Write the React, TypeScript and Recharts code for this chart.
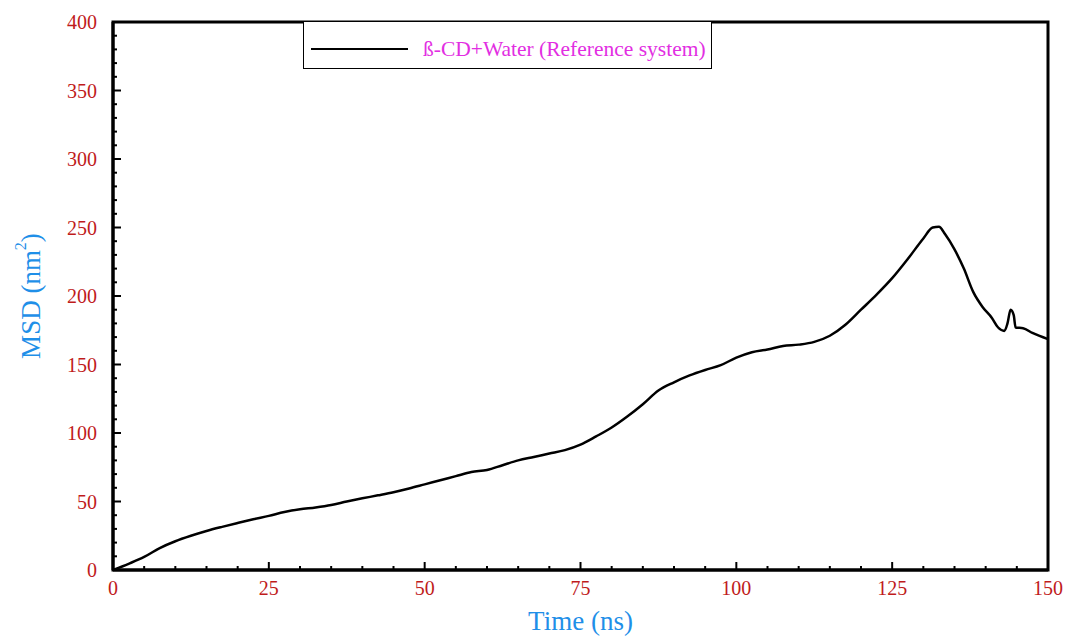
import React from 'react';
import { LineChart, Line, XAxis, YAxis, ReferenceArea } from 'recharts';

// time (ns) and MSD (nm^2)
const timeNs = [
  0, 2.5, 5, 7.5, 10, 12.5, 15, 17.5, 20, 22.5, 25, 27.5, 30, 32.5, 35, 37.5, 40, 42.5, 45, 47.5,
  50, 52.5, 55, 57.5, 60, 62.5, 65, 67.5, 70, 72.5, 75, 77.5, 80, 82.5, 85, 87.5, 90, 92.5, 95, 97.5,
  100, 102.5, 105, 107.5, 110, 112.5, 115, 117.5, 120, 122.5, 125, 127.5, 130, 131.5, 132.5, 133.5,
  135, 136.5, 138, 139.5, 141, 142, 143, 143.5, 144, 144.5, 144.8, 146, 147.5, 150,
];
const msd = [
  0, 4.5, 9.5, 16, 21, 25, 28.5, 31.5, 34.3, 37, 39.5, 42.3, 44.3, 45.7, 47.5, 50, 52.3, 54.5, 56.8, 59.5,
  62.5, 65.5, 68.5, 71.5, 73, 76.5, 80, 82.5, 85, 87.5, 91.5, 97.5, 104, 112, 121, 131, 137, 142, 146, 149.5,
  155, 159, 161, 163.5, 164.5, 166.5, 171, 179, 190, 201, 213, 227, 242, 250, 250.5, 245,
  234, 220, 203, 192, 184, 177, 174.5, 180, 190, 186, 177, 176.5, 173, 168.5,
];
const xTicks = [
  0, 5, 10, 15, 20, 25, 30, 35, 40, 45, 50, 55, 60, 65, 70, 75, 80, 85, 90, 95,
  100, 105, 110, 115, 120, 125, 130, 135, 140, 145, 150,
];
const yTicks = [
  0, 10, 20, 30, 40, 50, 60, 70, 80, 90, 100, 110, 120, 130, 140, 150, 160, 170, 180, 190,
  200, 210, 220, 230, 240, 250, 260, 270, 280, 290, 300, 310, 320, 330, 340, 350, 360, 370, 380, 390, 400,
];
const seriesName = 'ß-CD+Water (Reference system)';

const data = timeNs.map((t, i) => ({ t, msd: msd[i] }));

const FONT = '"Liberation Serif", "Times New Roman", serif';
const TICK_RED = '#bf1b1b';
const TITLE_BLUE = '#1f8fe8';

const YTick = (props: any) => {
  const { x, y, payload } = props;
  const major = payload.value % 50 === 0;
  return (
    <g>
      <line x1={x} x2={x + (major ? 8 : 4)} y1={y} y2={y} stroke="#000" strokeWidth={2} />
      {major && (
        <text x={x - 16} y={y} dy="0.35em" textAnchor="end" fill={TICK_RED} fontSize={20} fontFamily={FONT}>
          {payload.value}
        </text>
      )}
    </g>
  );
};

const XTick = (props: any) => {
  const { x, y, payload } = props;
  const major = payload.value % 25 === 0;
  return (
    <g>
      <line x1={x} x2={x} y1={y} y2={y - (major ? 8 : 4)} stroke="#000" strokeWidth={2} />
      {major && (
        <text x={x} y={y + 25} textAnchor="middle" fill={TICK_RED} fontSize={20} fontFamily={FONT}>
          {payload.value}
        </text>
      )}
    </g>
  );
};

const YTitle = (props: any) => {
  const vb = props.viewBox;
  const cx = vb.x + 18;
  const cy = vb.y + vb.height / 2;
  return (
    <text
      x={cx}
      y={cy}
      transform={`rotate(-90, ${cx}, ${cy})`}
      textAnchor="middle"
      dominantBaseline="central"
      fill={TITLE_BLUE}
      fontSize={27}
      fontFamily={FONT}
    >
      <tspan>MSD (nm</tspan>
      <tspan dy={-11} fontSize={16}>2</tspan>
      <tspan dy={11}>)</tspan>
    </text>
  );
};

const XTitle = (props: any) => {
  const vb = props.viewBox;
  return (
    <text x={vb.x + vb.width / 2} y={vb.y + 60} textAnchor="middle" fill={TITLE_BLUE} fontSize={27} fontFamily={FONT}>
      Time (ns)
    </text>
  );
};

export default function App() {
  return (
    <div style={{ position: 'absolute', left: 0, top: 0, width: 1066, height: 641, background: '#fff' }}>
      <LineChart width={1066} height={641} data={data} margin={{ top: 22, right: 18, bottom: 11, left: 13 }}>
        <XAxis
          dataKey="t"
          type="number"
          domain={[0, 150]}
          ticks={xTicks}
          interval={0}
          height={60}
          tickSize={0}
          tickMargin={0}
          tickLine={false}
          tick={<XTick />}
          axisLine={{ stroke: '#000', strokeWidth: 3 }}
          label={{ content: <XTitle /> }}
        />
        <YAxis
          type="number"
          domain={[0, 400]}
          ticks={yTicks}
          interval={0}
          width={100}
          tickSize={0}
          tickMargin={0}
          tickLine={false}
          tick={<YTick />}
          axisLine={{ stroke: '#000', strokeWidth: 3 }}
          label={{ content: <YTitle /> }}
        />
        <ReferenceArea x1={0} x2={150} y1={0} y2={400} fill="none" stroke="#000" strokeWidth={3} />
        <Line
          type="monotone"
          dataKey="msd"
          name={seriesName}
          stroke="#000"
          strokeWidth={2.5}
          dot={false}
          isAnimationActive={false}
        />
      </LineChart>
      <div
        style={{
          position: 'absolute',
          left: 303,
          top: 22,
          width: 407,
          height: 38,
          paddingTop: 8,
          border: '1px solid #000',
          borderTop: 'none',
          background: '#fff',
          display: 'flex',
          alignItems: 'center',
          fontFamily: FONT,
        }}
      >
        <div style={{ width: 97, height: 2.5, background: '#000', marginLeft: 7 }} />
        <span style={{ marginLeft: 15, color: '#e22ee2', fontSize: 21.5, whiteSpace: 'nowrap' }}>{seriesName}</span>
      </div>
    </div>
  );
}
